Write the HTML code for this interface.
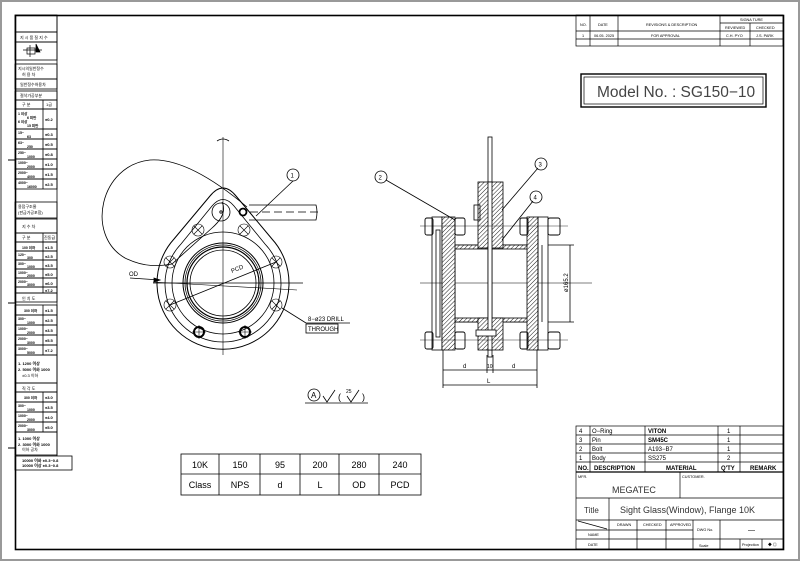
<!DOCTYPE html>
<html><head><meta charset="utf-8"><style>
html,body{margin:0;padding:0;background:#fff}
svg{display:block}
text{font-family:"Liberation Sans","Noto Sans CJK KR",sans-serif;fill:#000}
</style></head><body>
<svg width="800" height="561" viewBox="0 0 800 561" xmlns="http://www.w3.org/2000/svg">
<defs>
<pattern id="h" width="3" height="3" patternUnits="userSpaceOnUse" patternTransform="rotate(45)"><rect width="3" height="3" fill="#fff"/><line x1="0" y1="0" x2="0" y2="3" stroke="#000" stroke-width="0.9"/></pattern>
</defs>
<rect x="0" y="0" width="800" height="561" fill="#fff"/>
<rect x="1" y="1" width="798" height="559" fill="none" stroke="#999" stroke-width="2"/>
<rect x="15.5" y="15.5" width="768" height="534" fill="none" stroke="#000" stroke-width="1.6"/>
<g stroke="#000" stroke-width="1"><line x1="8" y1="160" x2="15" y2="160"/><line x1="8" y1="303" x2="15" y2="303"/><line x1="8" y1="448" x2="15" y2="448"/></g>

<!-- left table -->
<g fill="none" stroke="#000" stroke-width="0.8">
<line x1="57" y1="15" x2="57" y2="456"/>
<rect x="15" y="15" width="42" height="17"/>
<rect x="15" y="32" width="42" height="10"/>
<rect x="15" y="42" width="42" height="18"/>
<rect x="15" y="64" width="42" height="15"/>
<rect x="15" y="79" width="42" height="10"/>
<rect x="15" y="91" width="42" height="9"/>
<rect x="15" y="100" width="42" height="9"/>
<rect x="15" y="109" width="42" height="20"/>
<rect x="15" y="129" width="42" height="10"/><rect x="15" y="139" width="42" height="10"/><rect x="15" y="149" width="42" height="10"/><rect x="15" y="159" width="42" height="10"/><rect x="15" y="169" width="42" height="10"/><rect x="15" y="179" width="42" height="10"/>
<line x1="43" y1="100" x2="43" y2="189"/>
<rect x="15" y="202" width="42" height="16"/>
<rect x="15" y="219" width="42" height="14"/>
<rect x="15" y="233" width="42" height="9"/>
<rect x="15" y="242" width="42" height="9"/><rect x="15" y="251" width="42" height="9"/><rect x="15" y="260" width="42" height="9"/><rect x="15" y="269" width="42" height="9"/><rect x="15" y="278" width="42" height="9"/><rect x="15" y="287" width="42" height="6"/>
<line x1="43" y1="233" x2="43" y2="293"/>
<rect x="15" y="293" width="42" height="9"/>
<rect x="15" y="305" width="42" height="10"/><rect x="15" y="315" width="42" height="10"/><rect x="15" y="325" width="42" height="10"/><rect x="15" y="335" width="42" height="10"/><rect x="15" y="345" width="42" height="10"/>
<line x1="43" y1="305" x2="43" y2="355"/>
<rect x="15" y="355" width="42" height="28"/>
<rect x="15" y="383" width="42" height="9"/>
<rect x="15" y="392" width="42" height="10"/><rect x="15" y="402" width="42" height="10"/><rect x="15" y="412" width="42" height="10"/><rect x="15" y="422" width="42" height="10"/>
<line x1="43" y1="392" x2="43" y2="432"/>
<rect x="15" y="432" width="42" height="23"/>
<rect x="15" y="456" width="57" height="14"/>
</g>
<g font-size="4">
<text x="20" y="39">지 시 품 질 지 수</text>
<text x="18" y="70">지시의일반정수</text><text x="22" y="76">허  용  차</text>
<text x="20" y="86">일반정수허용차</text>
<text x="20" y="97">절삭가공부분</text>
<text x="22" y="106">구  분</text><text x="46" y="106">1급</text>
<text x="45" y="121" font-weight="bold">±0.2</text>
<text x="45" y="136" font-weight="bold">±0.3</text><text x="45" y="146" font-weight="bold">±0.5</text><text x="45" y="156" font-weight="bold">±0.8</text><text x="45" y="166" font-weight="bold">±1.0</text><text x="45" y="176" font-weight="bold">±1.5</text><text x="45" y="186" font-weight="bold">±2.5</text>
<text x="18" y="208">용접구조물</text><text x="18" y="214">(판금가공포함)</text>
<text x="22" y="228">지  수  차</text>
<text x="22" y="239">구  분</text><text x="44" y="239">진동급</text>
<text x="45" y="249" font-weight="bold">±1.5</text><text x="45" y="258" font-weight="bold">±2.5</text><text x="45" y="267" font-weight="bold">±3.5</text><text x="45" y="276" font-weight="bold">±5.0</text><text x="45" y="285" font-weight="bold">±6.0</text><text x="45" y="292" font-weight="bold">±7.2</text>
<text x="22" y="300">인  치  도</text>
<text x="45" y="312" font-weight="bold">±1.5</text><text x="45" y="322" font-weight="bold">±2.5</text><text x="45" y="332" font-weight="bold">±3.5</text><text x="45" y="342" font-weight="bold">±5.5</text><text x="45" y="352" font-weight="bold">±7.2</text>
<text x="18" y="365" font-weight="bold">1. 1200 이상</text><text x="18" y="371" font-weight="bold">2. 5000 이하 1000</text><text x="22" y="377">±0.3 이하</text>
<text x="22" y="390">직  각  도</text>
<text x="45" y="399" font-weight="bold">±3.0</text><text x="45" y="409" font-weight="bold">±3.5</text><text x="45" y="419" font-weight="bold">±4.0</text><text x="45" y="429" font-weight="bold">±5.0</text>
<text x="18" y="440" font-weight="bold">1. 1000 이상</text><text x="18" y="446" font-weight="bold">2. 3000 이하 1000</text><text x="22" y="451">이하 공차</text>
<text x="22" y="462" font-weight="bold">10000 이하 ±0.3~0.8</text><text x="22" y="467" font-weight="bold">10000 이상 ±0.3~0.8</text>
</g>
<g font-size="3.5" font-weight="bold">
<text x="18" y="115">1 이상</text><text x="27" y="119">6 미만</text><text x="18" y="123">6 이상</text><text x="27" y="127">15 미만</text>
<text x="18" y="134">15~</text><text x="27" y="138">63</text><text x="18" y="144">63~</text><text x="27" y="148">250</text><text x="18" y="154">250~</text><text x="27" y="158">1000</text><text x="18" y="164">1000~</text><text x="27" y="168">2000</text><text x="18" y="174">2000~</text><text x="27" y="178">4000</text><text x="18" y="184">4000~</text><text x="27" y="188">16000</text>
<text x="22" y="249">100 이하</text><text x="18" y="256">120~</text><text x="27" y="259">300</text><text x="18" y="265">300~</text><text x="27" y="268">1000</text><text x="18" y="274">1000~</text><text x="27" y="277">2000</text><text x="18" y="283">2000~</text><text x="27" y="286">3000</text>
<text x="24" y="312">300 이하</text><text x="18" y="320">300~</text><text x="27" y="324">1000</text><text x="18" y="330">1000~</text><text x="27" y="334">2000</text><text x="18" y="340">2000~</text><text x="27" y="344">3000</text><text x="18" y="350">3000~</text><text x="27" y="354">5000</text>
<text x="24" y="399">300 이하</text><text x="18" y="407">300~</text><text x="27" y="411">1000</text><text x="18" y="417">1000~</text><text x="27" y="421">2000</text><text x="18" y="427">2000~</text><text x="27" y="431">3000</text>
</g>
<g stroke="#000" stroke-width="0.7" fill="none"><line x1="30" y1="45" x2="30" y2="57"/><line x1="23" y1="50" x2="42" y2="50"/><rect x="27" y="48" width="8" height="6"/><path d="M36 44 L40 52 L36 52Z" fill="#000"/></g>

<!-- revision table -->
<g fill="none" stroke="#000" stroke-width="0.7">
<rect x="576" y="15" width="207" height="31"/>
<line x1="576" y1="31" x2="783" y2="31"/><line x1="576" y1="39" x2="783" y2="39"/>
<line x1="720" y1="23" x2="783" y2="23"/>
<line x1="590" y1="15" x2="590" y2="46"/><line x1="618" y1="15" x2="618" y2="46"/><line x1="720" y1="15" x2="720" y2="46"/><line x1="750" y1="23" x2="750" y2="46"/>
</g>
<g font-size="3.8">
<text x="580" y="26">NO.</text><text x="598" y="26">DATE</text><text x="646" y="26">REVISIONS &amp; DESCRIPTION</text><text x="740" y="21">SIGNA TURE</text><text x="725" y="29">REVIEWED</text><text x="756" y="29">CHECKED</text>
<text x="582" y="37">1</text><text x="594" y="37">06.05. 2025</text><text x="651" y="37">FOR APPROVAL</text><text x="726" y="37">C.H. PYO</text><text x="756" y="37">J.S. PARK</text>
</g>
<rect x="581" y="74" width="185" height="33" fill="none" stroke="#000" stroke-width="1.4"/>
<rect x="584" y="77" width="179" height="27" fill="none" stroke="#000" stroke-width="0.7"/>
<text x="597" y="97" font-size="15.5" style="fill:#444">Model No. : SG150−10</text>

<!-- BOM -->
<g fill="none" stroke="#000" stroke-width="0.7">
<rect x="576" y="426" width="207" height="123"/>
<line x1="576" y1="435" x2="783" y2="435"/><line x1="576" y1="444" x2="783" y2="444"/><line x1="576" y1="453" x2="783" y2="453"/><line x1="576" y1="462" x2="783" y2="462"/>
<line x1="576" y1="472" x2="783" y2="472" stroke-width="1.2"/>
<line x1="590" y1="426" x2="590" y2="472"/><line x1="645" y1="426" x2="645" y2="472"/><line x1="718" y1="426" x2="718" y2="472"/><line x1="740" y1="426" x2="740" y2="472"/>
<line x1="680" y1="472" x2="680" y2="498"/>
<line x1="576" y1="498" x2="783" y2="498"/><line x1="576" y1="520" x2="783" y2="520"/>
<line x1="609" y1="498" x2="609" y2="520"/>
<line x1="576" y1="530" x2="693" y2="530"/><line x1="576" y1="539" x2="783" y2="539"/>
<line x1="609" y1="520" x2="609" y2="549"/><line x1="637" y1="520" x2="637" y2="549"/><line x1="666" y1="520" x2="666" y2="549"/><line x1="693" y1="520" x2="693" y2="549"/><line x1="720" y1="520" x2="720" y2="549"/><line x1="740" y1="539" x2="740" y2="549"/><line x1="762" y1="539" x2="762" y2="549"/>
<line x1="578" y1="521" x2="607" y2="529"/>
</g>
<g font-size="6">
<text x="579" y="433">4</text><text x="592" y="433">O−Ring</text><text x="648" y="433" font-weight="bold">VITON</text><text x="727" y="433">1</text>
<text x="579" y="442">3</text><text x="592" y="442">Pin</text><text x="648" y="442" font-weight="bold">SM45C</text><text x="727" y="442">1</text>
<text x="579" y="451">2</text><text x="592" y="451">Bolt</text><text x="648" y="451">A193−B7</text><text x="727" y="451">1</text>
<text x="579" y="460">1</text><text x="592" y="460">Body</text><text x="648" y="460">SS275</text><text x="727" y="460">2</text>
<text x="578" y="470" font-weight="bold">NO.</text><text x="594" y="470" font-weight="bold">DESCRIPTION</text><text x="666" y="470" font-weight="bold">MATERIAL</text><text x="721" y="470" font-weight="bold">Q'TY</text><text x="750" y="470" font-weight="bold">REMARK</text>
</g>
<g font-size="3.8"><text x="578" y="478">MFR.</text><text x="682" y="478">CUSTOMER.</text>
<text x="617" y="526">DRAWN</text><text x="643" y="526">CHECKED</text><text x="670" y="526">APPROVED</text><text x="697" y="531">DWG No.</text><text x="588" y="536">NAME</text><text x="588" y="546">DATE</text><text x="699" y="547">Scale</text><text x="742" y="546">Projection</text><text x="768" y="546">◆ ◎</text></g>
<text x="612" y="493" font-size="9" style="fill:#333">MEGATEC</text>
<text x="584" y="513" font-size="8" style="fill:#333">Title</text>
<text x="620" y="513" font-size="9" style="fill:#333">Sight Glass(Window), Flange 10K</text>
<text x="748" y="532" font-size="7">—</text>

<!-- bottom table -->
<g fill="none" stroke="#000" stroke-width="0.8">
<rect x="181" y="454" width="240" height="41"/><line x1="181" y1="474" x2="421" y2="474"/>
<line x1="219" y1="454" x2="219" y2="495"/><line x1="260" y1="454" x2="260" y2="495"/><line x1="300" y1="454" x2="300" y2="495"/><line x1="339" y1="454" x2="339" y2="495"/><line x1="379" y1="454" x2="379" y2="495"/>
</g>
<g font-size="9" text-anchor="middle">
<text x="200" y="468">10K</text><text x="240" y="468">150</text><text x="280" y="468">95</text><text x="320" y="468">200</text><text x="359" y="468">280</text><text x="400" y="468">240</text>
<text x="200" y="488">Class</text><text x="240" y="488">NPS</text><text x="280" y="488">d</text><text x="320" y="488">L</text><text x="359" y="488">OD</text><text x="400" y="488">PCD</text>
</g>

<!-- front view -->
<g fill="none" stroke="#000" stroke-width="0.8">
<line x1="223" y1="137" x2="223" y2="355" stroke-width="0.6"/>
<path d="M217 141 Q223 137 229 141"/>
<line x1="153" y1="283" x2="303" y2="283"/>
<line x1="153" y1="282" x2="297" y2="290" stroke-width="0.6"/>
<path d="M174 239 L210 196 Q223 180 236 196 L272 239 A66 66 0 1 1 174 239 Z" stroke-width="1"/>
<path d="M181 244 L212 206 Q223 193 234 206 L265 244 A58 58 0 1 1 181 244 Z"/>
<circle cx="223" cy="283" r="51"/>
<circle cx="223" cy="283" r="40" stroke-width="1"/>
<circle cx="223" cy="283" r="38"/>
<circle cx="223" cy="283" r="36" stroke-width="1.2"/>
<circle cx="223" cy="283" r="33"/>
<g stroke-width="0.6">
<circle cx="170" cy="262" r="6"/><circle cx="276" cy="262" r="6"/><circle cx="170" cy="305" r="6"/><circle cx="276" cy="305" r="6"/><circle cx="198" cy="230" r="6"/><circle cx="244" cy="230" r="6"/>
<path d="M166 258l8 8M174 258l-8 8M272 258l8 8M280 258l-8 8M166 301l8 8M174 301l-8 8M272 301l8 8M280 301l-8 8M194 226l8 8M202 226l-8 8M240 226l8 8M248 226l-8 8"/>
</g>
<circle cx="199" cy="332" r="5" stroke-width="2"/><circle cx="245" cy="332" r="5" stroke-width="2"/>
<path d="M192 332h14M199 325v14M238 332h14M245 325v14" stroke-width="0.6"/>
<circle cx="221" cy="212" r="9"/><circle cx="221" cy="212" r="1.2"/>
<circle cx="243" cy="212" r="3.5" stroke-width="1.8"/>
<path d="M249 205 H316 Q318 212 316 220 H249"/>
<line x1="250" y1="212" x2="318" y2="212" stroke-dasharray="8 4"/>
<path d="M247 207 C215 180 180 158 150 160 C100 165 85 235 125 258 C145 268 160 266 172 264 L212 228 Q228 214 222 202"/>
<line x1="130" y1="278" x2="160" y2="280"/><polygon points="160,280 154,278 154,282" fill="#000"/>
<line x1="170" y1="305" x2="276" y2="262"/>
<line x1="293" y1="181" x2="256" y2="216"/>
<circle cx="293" cy="175" r="6"/>
<line x1="282" y1="308" x2="306" y2="323"/><line x1="306" y1="323" x2="350" y2="323"/>
<rect x="306" y="324" width="32" height="9"/>
</g>
<text x="129" y="276" font-size="6">OD</text>
<text x="232" y="273" font-size="6" transform="rotate(-22 232 273)">PCD</text>
<text x="290.5" y="177.5" font-size="6">1</text>
<text x="308" y="321" font-size="6">8−ø23 DRILL</text>
<text x="308" y="331" font-size="6">THROUGH</text>
<g fill="none" stroke="#000" stroke-width="0.8"><circle cx="314" cy="395" r="6"/><line x1="305" y1="403" x2="368" y2="403"/><path d="M323 396 l4 6 l8 -12"/><path d="M347 396 l4 6 l8 -12"/></g>
<text x="311" y="398" font-size="8">A</text><text x="338" y="400" font-size="9">(</text><text x="362" y="400" font-size="9">)</text><text x="346" y="393" font-size="5">25</text>

<!-- side view -->
<g fill="none" stroke="#000" stroke-width="0.8">
<line x1="420" y1="283" x2="592" y2="283" stroke-width="0.6"/>
<rect x="488" y="137" width="4" height="220"/>
<rect x="455" y="245" width="82" height="77"/>
<rect x="455" y="245" width="82" height="4" fill="url(#h)"/>
<rect x="455" y="318" width="82" height="4" fill="url(#h)"/>
<rect x="432" y="217" width="10" height="133"/>
<rect x="436" y="230" width="4" height="107"/>
<rect x="442" y="217" width="13" height="133" fill="url(#h)"/>
<rect x="527" y="217" width="11" height="133" fill="url(#h)"/>
<rect x="538" y="217" width="10" height="133"/>
<line x1="542" y1="245" x2="542" y2="322"/>
<rect x="478" y="182" width="25" height="66" fill="url(#h)"/>
<rect x="478" y="318" width="25" height="32" fill="url(#h)"/>
<rect x="488" y="182" width="4" height="168" fill="#fff"/>
<rect x="474" y="205" width="6" height="15"/>
<rect x="476" y="330" width="20" height="6" fill="#fff"/>
<g stroke-width="0.9">
<rect x="425" y="218" width="8" height="17" rx="2"/><rect x="455" y="218" width="10" height="17" rx="2"/>
<rect x="425" y="332" width="8" height="17" rx="2"/><rect x="455" y="332" width="10" height="17" rx="2"/>
<rect x="520" y="218" width="8" height="17" rx="2"/><rect x="548" y="218" width="12" height="17" rx="2"/>
<rect x="520" y="332" width="8" height="17" rx="2"/><rect x="548" y="332" width="12" height="17" rx="2"/>
<line x1="420" y1="226" x2="568" y2="226" stroke-width="0.4"/><line x1="420" y1="340" x2="568" y2="340" stroke-width="0.4"/>
</g>
<line x1="548" y1="245" x2="574" y2="245"/><line x1="548" y1="322" x2="574" y2="322"/><line x1="570" y1="245" x2="570" y2="322"/>
<line x1="443" y1="350" x2="443" y2="388"/><line x1="537" y1="350" x2="537" y2="388"/><line x1="487" y1="355" x2="487" y2="373"/><line x1="493" y1="355" x2="493" y2="373"/>
<line x1="443" y1="370" x2="537" y2="370"/><line x1="443" y1="385" x2="537" y2="385"/>
<line x1="386" y1="180" x2="455" y2="220"/>
<line x1="538" y1="168" x2="502" y2="210"/>
<line x1="533" y1="201" x2="502" y2="240"/>
<circle cx="381" cy="177" r="6"/><circle cx="541" cy="164" r="6"/><circle cx="536" cy="197" r="6"/>
</g>
<text x="378.5" y="179.5" font-size="6">2</text><text x="538.5" y="166.5" font-size="6">3</text><text x="533.5" y="199.5" font-size="6">4</text>
<text x="568" y="292" font-size="6" transform="rotate(-90 568 292)">ø165.2</text>
<text x="463" y="368" font-size="6">d</text><text x="487" y="368" font-size="5">10</text><text x="512" y="368" font-size="6">d</text><text x="487" y="383" font-size="6">L</text>
</svg>
</body></html>
